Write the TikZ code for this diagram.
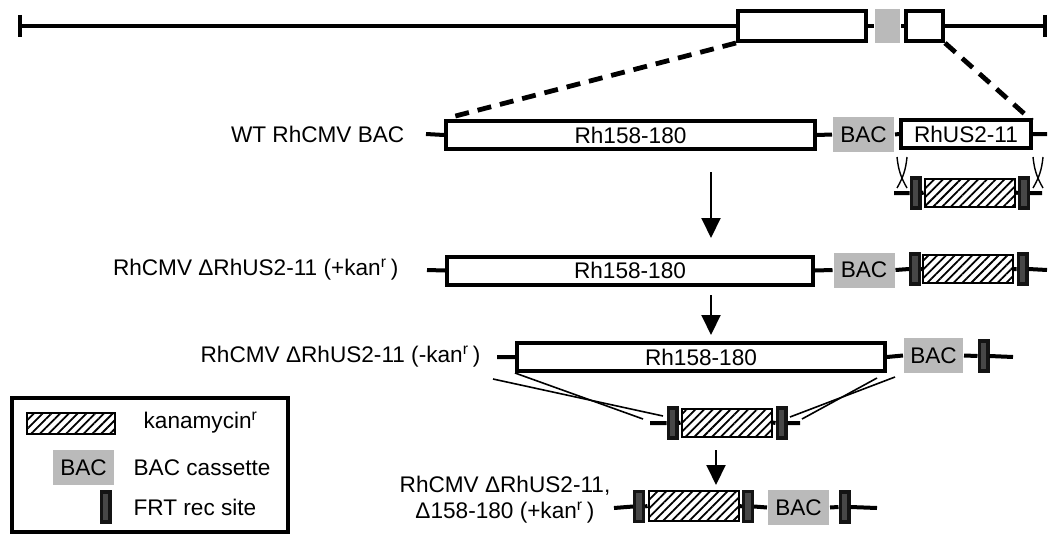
\documentclass[tikz,border=0pt]{standalone}
\usepackage{fontspec}
\setmainfont{Liberation Sans}
\usetikzlibrary{arrows.meta,patterns.meta}
\tikzset{
  every picture/.style={line width=1pt},
  gtxt/.style={font=\fontsize{11.3pt}{13pt}\selectfont},
  dna/.style={line width=2pt},
  gene/.style={draw, line width=2pt, fill=white, inner sep=0pt, minimum height=14pt, gtxt},
  bac/.style={fill=black!27, inner sep=0pt, minimum width=30.5pt, minimum height=17.5pt, gtxt},
  frt/.style={draw=black!92, line width=1.6pt, fill=black!72, inner sep=0pt,
              minimum width=4.4pt, minimum height=15pt},
  kan/.style={draw, line width=1pt, preaction={fill=white},
              pattern={Lines[angle=45,distance=3.1pt,line width=0.9pt]},
              inner sep=0pt, minimum width=45pt, minimum height=14pt},
  zoomline/.style={line width=2.4pt, dash pattern=on 7pt off 4.5pt},
  xover/.style={line width=0.8pt},
  xmark/.style={line width=0.7pt},
  steparrow/.style={line width=1pt, -{Triangle[width=9.5pt,length=10pt]}},
}

\begin{document}
\begin{tikzpicture}[x=0.5pt,y=-0.5pt]
\useasboundingbox (0,0) rectangle (1048,535);

% genome overview
\coordinate (topL) at (20,26);
\coordinate (topR) at (1045,26);
\node[gene, minimum width=64pt, minimum height=15pt] (top1) at (802,26) {};
\node[bac, minimum width=12.5pt, minimum height=17pt] (topgray) at (887.5,26) {};
\node[gene, minimum width=18.5pt, minimum height=15pt] (top2) at (924.5,26) {};
\draw[dna] (topL) -- (top1.west) (top1.east) -- (topgray.west)
  (topgray.east) -- (top2.west) (top2.east) -- (topR);
\draw[dna] ([yshift=5.5pt]topL) -- ([yshift=-5.5pt]topL);
\draw[dna] ([yshift=5.5pt]topR) -- ([yshift=-5.5pt]topR);

% WT RhCMV BAC
\node[gtxt, anchor=east] (r1lab) at (412,134) {WT RhCMV BAC};
\coordinate (r1L) at (426,134);
\coordinate (r1R) at (1047,134);
\node[gene, minimum width=184.5pt] (r1box) at (630.5,135) {Rh158-180};
\node[bac] (r1bac) at (863.5,134.5) {BAC};
\node[gene, minimum width=65pt] (r1us) at (966,134) {RhUS2-11};
\draw[dna] (r1L) -- (r1box.west) (r1box.east) -- (r1bac.west)
  (r1bac.east) -- (r1us.west) (r1us.east) -- (r1R);
\draw[zoomline, shorten >=4pt] (top1.south west) -- (r1box.north west);
\draw[zoomline, shorten >=10pt] (top2.south east) -- (r1R);

% recombination cassette
\foreach \cx in {902,1038}
  \draw[xmark] (\cx-5,157) to[bend right=12] (\cx+5,188)
               (\cx+5,157) to[bend left=12] (\cx-5,188);
\coordinate (c1L) at (894,193);
\coordinate (c1R) at (1042,193);
\node[frt] (c1f1) at (915.5,193) {};
\node[kan] (c1k) at (969.5,192.5) {};
\node[frt] (c1f2) at (1024,193) {};
\draw[dna] (c1L) -- (c1f1.west) (c1f1.east) -- (c1k.west)
  (c1k.east) -- (c1f2.west) (c1f2.east) -- (c1R);

\coordinate (a1s) at (711,172);
\coordinate (a1e) at (711,238);
\draw[steparrow] (a1s) -- (a1e);

% RhCMV dRhUS2-11 (+kan)
\node[gtxt, anchor=east] (r2lab) at (406,270) {RhCMV ΔRhUS2-11 (+kan\textsuperscript{r}\,)};
\coordinate (r2L) at (427,270);
\coordinate (r2R) at (1047,270);
\node[gene, minimum width=183pt] (r2box) at (630,270.5) {Rh158-180};
\node[bac] (r2bac) at (864,270) {BAC};
\node[frt] (r2f1) at (915,269) {};
\node[kan] (r2k) at (968,269) {};
\node[frt] (r2f2) at (1022.5,269) {};
\draw[dna] (r2L) -- (r2box.west) (r2box.east) -- (r2bac.west)
  (r2bac.east) -- (r2f1.west) (r2f1.east) -- (r2k.west)
  (r2k.east) -- (r2f2.west) (r2f2.east) -- (r2R);

\coordinate (a2s) at (711,295);
\coordinate (a2e) at (711,335);
\draw[steparrow] (a2s) -- (a2e);

% RhCMV dRhUS2-11 (-kan)
\node[gtxt, anchor=east] (r3lab) at (488,357) {RhCMV ΔRhUS2-11 (-kan\textsuperscript{r}\,)};
\coordinate (r3L) at (497,357);
\coordinate (r3R) at (1013,357);
\node[gene, minimum width=184pt] (r3box) at (701,357) {Rh158-180};
\node[bac, minimum width=29.5pt] (r3bac) at (933.5,355.5) {BAC};
\node[frt] (r3f) at (983.5,356) {};
\draw[dna] (r3L) -- (r3box.west) (r3box.east) -- (r3bac.west)
  (r3bac.east) -- (r3f.west) (r3f.east) -- (r3R);

% cassette for Rh158-180 replacement
\coordinate (c2L) at (650,423);
\coordinate (c2R) at (800,423);
\node[frt] (c2f1) at (672.5,423) {};
\node[kan] (c2k) at (726.5,422.5) {};
\node[frt] (c2f2) at (781.5,423) {};
\draw[dna] (c2L) -- (c2f1.west) (c2f1.east) -- (c2k.west)
  (c2k.east) -- (c2f2.west) (c2f2.east) -- (c2R);
\coordinate (xa1) at (493,379);
\coordinate (xa2) at (663,416);
\coordinate (xb2) at (643,419);
\coordinate (xc1) at (790,417);
\coordinate (xc2) at (895,377);
\coordinate (xd1) at (802,419);
\coordinate (xd2) at (877,378);
\draw[xover] (xa1) -- (xa2);
\draw[xover] (r3box.south west) -- (xb2);
\draw[xover] (xc1) -- (xc2);
\draw[xover] (xd1) -- (xd2);

\coordinate (a3s) at (716,450);
\coordinate (a3e) at (716,485);
\draw[steparrow] (a3s) -- (a3e);

% RhCMV dRhUS2-11, d158-180 (+kan)
\node[gtxt, align=center] (r4lab) at (505,500) {RhCMV ΔRhUS2-11,\\Δ158-180 (+kan\textsuperscript{r}\,)};
\coordinate (r4L) at (614,508);
\coordinate (r4R) at (877,508);
\node[frt] (r4f1) at (639,506.5) {};
\node[kan, minimum height=15pt] (r4k) at (693.5,506) {};
\node[frt] (r4f2) at (748,506.5) {};
\node[bac] (r4bac) at (798.5,507.5) {BAC};
\node[frt] (r4f3) at (844.5,507) {};
\draw[dna] (r4L) -- (r4f1.west) (r4f1.east) -- (r4k.west)
  (r4k.east) -- (r4f2.west) (r4f2.east) -- (r4bac.west)
  (r4bac.east) -- (r4f3.west) (r4f3.east) -- (r4R);

% legend
\draw[line width=2pt] (12,398) rectangle (288,532);
\node[kan, minimum width=44pt, minimum height=10.5pt] (lgk) at (71,423.5) {};
\node[gtxt, anchor=west] (lgkt) at (136,423) {kanamycin\textsuperscript{r}};
\node[bac] (lgbac) at (83.5,467.5) {BAC};
\node[gtxt, anchor=west] (lgbact) at (126,468) {BAC cassette};
\node[frt] (lgfrt) at (105.5,507) {};
\node[gtxt, anchor=west] (lgfrtt) at (126,507) {FRT rec site};
\end{tikzpicture}
\end{document}
